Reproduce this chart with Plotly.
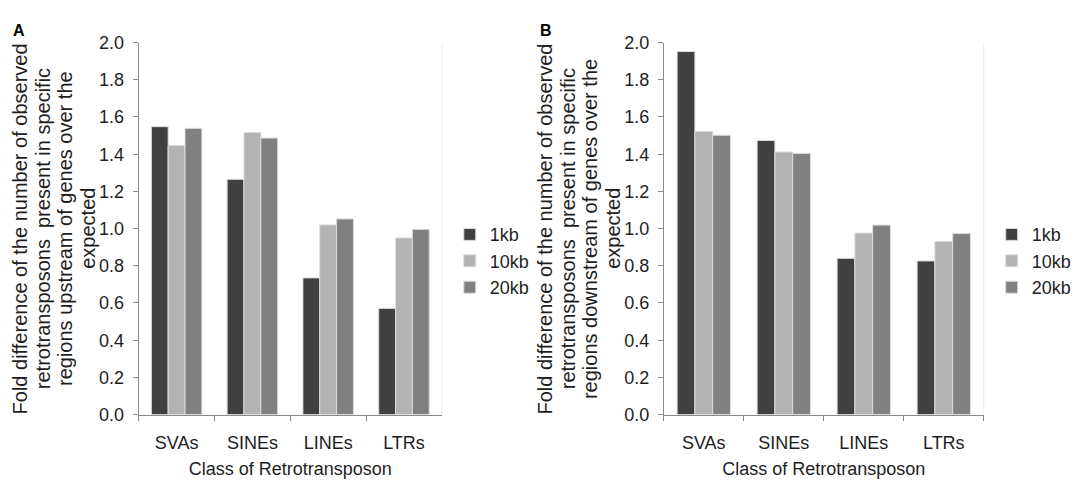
import plotly.graph_objects as go

# Retrotransposon classes and window sizes
categories = ["SVAs", "SINEs", "LINEs", "LTRs"]
windows = ["1kb", "10kb", "20kb"]

# Fold difference (observed / expected), upstream of genes
up_1kb = [1.548, 1.265, 0.735, 0.571]
up_10kb = [1.447, 1.516, 1.020, 0.950]
up_20kb = [1.539, 1.487, 1.052, 0.996]

# Fold difference (observed / expected), downstream of genes
down_1kb = [1.952, 1.474, 0.840, 0.826]
down_10kb = [1.522, 1.412, 0.976, 0.931]
down_20kb = [1.502, 1.404, 1.019, 0.973]

y_ticks = [0.0, 0.2, 0.4, 0.6, 0.8, 1.0, 1.2, 1.4, 1.6, 1.8, 2.0]
y_ticktext = [f"{v:.1f}" for v in y_ticks]

ytitle_up = ["Fold difference of the number of observed",
             "retrotransposons  present in specific",
             "regions upstream of genes over the",
             "expected"]
ytitle_down = ["Fold difference of the number of observed",
               "retrotransposons  present in specific",
               "regions downstream of genes over the",
               "expected"]

colors = ["#404040", "#b3b3b3", "#808080"]
FONT = "Liberation Sans, Arial, sans-serif"
TEXT = "#1e1e1e"
AXIS_GREY = "#8a8a8a"
W, H = 1077, 485

fig = go.Figure()

panels = [
    ("x", "y", "legend", [up_1kb, up_10kb, up_20kb]),
    ("x2", "y2", "legend2", [down_1kb, down_10kb, down_20kb]),
]
for xa, ya, lg, series in panels:
    for name, vals, col in zip(windows, series, colors):
        fig.add_trace(go.Bar(
            x=categories, y=vals, name=name, xaxis=xa, yaxis=ya,
            legend=lg, legendgroup=f"{lg}-{name}",
            marker=dict(color=col, line=dict(color="#dcdcdc", width=1)),
            hoverinfo="x+y+name",
        ))

# plot-area geometry in pixels
y_top, y_bot = 34, 422
ydom = [(H - y_bot) / H, (H - y_top) / H]
axA, axB = 140, 670
xdomA = [axA / W, 446 / W]
xdomB = [axB / W, 993 / W]


def xaxis_cfg(dom, anchor):
    return dict(
        domain=dom, anchor=anchor, type="category",
        showline=True, linecolor=AXIS_GREY, linewidth=1,
        ticks="outside", tickson="boundaries", ticklen=5, tickcolor=AXIS_GREY,
        ticklabelstandoff=12,
        tickfont=dict(family=FONT, size=18, color=TEXT),
        title=dict(text="Class of Retrotransposon",
                   font=dict(family=FONT, size=18, color=TEXT), standoff=10),
        showgrid=False, zeroline=False, fixedrange=True,
    )


def yaxis_cfg(anchor):
    return dict(
        domain=ydom, anchor=anchor, range=[0, 2.0],
        tickvals=y_ticks, ticktext=y_ticktext,
        showline=True, linecolor=AXIS_GREY, linewidth=1,
        ticks="outside", ticklen=5, tickcolor=AXIS_GREY, ticklabelstandoff=5,
        tickfont=dict(family=FONT, size=18, color=TEXT),
        showgrid=False, zeroline=False, fixedrange=True,
    )


legend_common = dict(
    font=dict(family=FONT, size=18, color=TEXT),
    bgcolor="rgba(0,0,0,0)", borderwidth=0, tracegroupgap=13,
    itemwidth=30, yanchor="middle", xanchor="left", traceorder="normal",
)

fig.update_layout(
    width=W, height=H,
    margin=dict(l=0, r=0, t=0, b=0),
    paper_bgcolor="white", plot_bgcolor="white",
    barmode="group", bargap=0.333, bargroupgap=0,
    xaxis=xaxis_cfg(xdomA, "y"),
    yaxis=yaxis_cfg("x"),
    xaxis2=xaxis_cfg(xdomB, "y2"),
    yaxis2=yaxis_cfg("x2"),
    legend=dict(x=454 / W, y=1 - 262 / H, **legend_common),
    legend2=dict(x=1001 / W, y=1 - 262 / H, **legend_common),
    showlegend=True,
)

# multi-line rotated y-axis titles, one annotation per line
y_mid = (H - (y_top + y_bot) / 2) / H
line_offsets = [-120, -97, -75, -52]
for ax_px, lines in [(axA, ytitle_up), (axB, ytitle_down)]:
    for off, line in zip(line_offsets, lines):
        fig.add_annotation(
            x=(ax_px + off) / W, y=y_mid, xref="paper", yref="paper",
            text=line, textangle=-90, showarrow=False,
            xanchor="center", yanchor="middle",
            font=dict(family=FONT, size=20, color=TEXT),
        )

for xc, lab in [(19, "A"), (551, "B")]:
    fig.add_annotation(
        x=xc / W, y=1 - 21 / H, xref="paper", yref="paper",
        text=f"<b>{lab}</b>", showarrow=False, xanchor="center", yanchor="middle",
        font=dict(family=FONT, size=16, color="#000000"),
    )

# faint right border of each plot area
for xr, yr in [("x domain", "y domain"), ("x2 domain", "y2 domain")]:
    fig.add_shape(type="line", xref=xr, yref=yr, x0=1, x1=1, y0=0, y1=1,
                  line=dict(color="#eeeeee", width=1))

fig.write_html("out.html")
